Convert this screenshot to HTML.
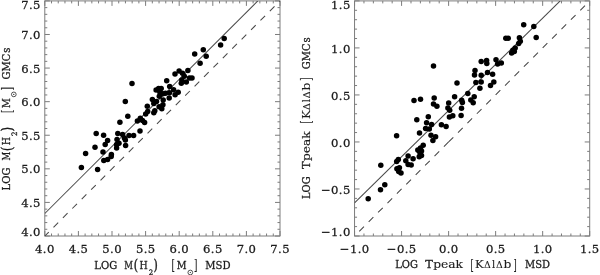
<!DOCTYPE html>
<html><head><meta charset="utf-8"><title>plot</title>
<style>
html,body{margin:0;padding:0;background:#fff;}
svg{display:block;}
text{font-family:"DejaVu Serif","Liberation Serif",serif;fill:#1c1c1c;}
.tk{font-size:11.6px;letter-spacing:0.4px;stroke:#1c1c1c;stroke-width:0.28px;}
.lb{font-size:11.2px;stroke:#1c1c1c;stroke-width:0.4px;}
.sb{font-size:7px;stroke:#1c1c1c;stroke-width:0.2px;}
</style></head><body>
<svg width="600" height="275" viewBox="0 0 600 275">
<rect width="600" height="275" fill="#fff"/>
<rect x="44.8" y="0.9" width="235.2" height="235.1" fill="none" stroke="#7c7c7c" stroke-width="1"/>
<path d="M44.80 236.0v-5M44.80 0.9v5M51.52 236.0v-2.5M51.52 0.9v2.5M58.24 236.0v-2.5M58.24 0.9v2.5M64.96 236.0v-2.5M64.96 0.9v2.5M71.68 236.0v-2.5M71.68 0.9v2.5M78.40 236.0v-5M78.40 0.9v5M85.12 236.0v-2.5M85.12 0.9v2.5M91.84 236.0v-2.5M91.84 0.9v2.5M98.56 236.0v-2.5M98.56 0.9v2.5M105.28 236.0v-2.5M105.28 0.9v2.5M112.00 236.0v-5M112.00 0.9v5M118.72 236.0v-2.5M118.72 0.9v2.5M125.44 236.0v-2.5M125.44 0.9v2.5M132.16 236.0v-2.5M132.16 0.9v2.5M138.88 236.0v-2.5M138.88 0.9v2.5M145.60 236.0v-5M145.60 0.9v5M152.32 236.0v-2.5M152.32 0.9v2.5M159.04 236.0v-2.5M159.04 0.9v2.5M165.76 236.0v-2.5M165.76 0.9v2.5M172.48 236.0v-2.5M172.48 0.9v2.5M179.20 236.0v-5M179.20 0.9v5M185.92 236.0v-2.5M185.92 0.9v2.5M192.64 236.0v-2.5M192.64 0.9v2.5M199.36 236.0v-2.5M199.36 0.9v2.5M206.08 236.0v-2.5M206.08 0.9v2.5M212.80 236.0v-5M212.80 0.9v5M219.52 236.0v-2.5M219.52 0.9v2.5M226.24 236.0v-2.5M226.24 0.9v2.5M232.96 236.0v-2.5M232.96 0.9v2.5M239.68 236.0v-2.5M239.68 0.9v2.5M246.40 236.0v-5M246.40 0.9v5M253.12 236.0v-2.5M253.12 0.9v2.5M259.84 236.0v-2.5M259.84 0.9v2.5M266.56 236.0v-2.5M266.56 0.9v2.5M273.28 236.0v-2.5M273.28 0.9v2.5M280.00 236.0v-5M280.00 0.9v5M44.8 236.00h5M280.0 236.00h-5M44.8 229.28h2.5M280.0 229.28h-2.5M44.8 222.57h2.5M280.0 222.57h-2.5M44.8 215.85h2.5M280.0 215.85h-2.5M44.8 209.13h2.5M280.0 209.13h-2.5M44.8 202.41h5M280.0 202.41h-5M44.8 195.70h2.5M280.0 195.70h-2.5M44.8 188.98h2.5M280.0 188.98h-2.5M44.8 182.26h2.5M280.0 182.26h-2.5M44.8 175.55h2.5M280.0 175.55h-2.5M44.8 168.83h5M280.0 168.83h-5M44.8 162.11h2.5M280.0 162.11h-2.5M44.8 155.39h2.5M280.0 155.39h-2.5M44.8 148.68h2.5M280.0 148.68h-2.5M44.8 141.96h2.5M280.0 141.96h-2.5M44.8 135.24h5M280.0 135.24h-5M44.8 128.53h2.5M280.0 128.53h-2.5M44.8 121.81h2.5M280.0 121.81h-2.5M44.8 115.09h2.5M280.0 115.09h-2.5M44.8 108.37h2.5M280.0 108.37h-2.5M44.8 101.66h5M280.0 101.66h-5M44.8 94.94h2.5M280.0 94.94h-2.5M44.8 88.22h2.5M280.0 88.22h-2.5M44.8 81.51h2.5M280.0 81.51h-2.5M44.8 74.79h2.5M280.0 74.79h-2.5M44.8 68.07h5M280.0 68.07h-5M44.8 61.35h2.5M280.0 61.35h-2.5M44.8 54.64h2.5M280.0 54.64h-2.5M44.8 47.92h2.5M280.0 47.92h-2.5M44.8 41.20h2.5M280.0 41.20h-2.5M44.8 34.49h5M280.0 34.49h-5M44.8 27.77h2.5M280.0 27.77h-2.5M44.8 21.05h2.5M280.0 21.05h-2.5M44.8 14.33h2.5M280.0 14.33h-2.5M44.8 7.62h2.5M280.0 7.62h-2.5M44.8 0.90h5M280.0 0.90h-5" stroke="#7c7c7c" stroke-width="1" fill="none"/>
<rect x="354.55" y="0.9" width="235.15000000000003" height="235.1" fill="none" stroke="#7c7c7c" stroke-width="1"/>
<path d="M354.55 236.0v-5M354.55 0.9v5M363.96 236.0v-2.5M363.96 0.9v2.5M373.36 236.0v-2.5M373.36 0.9v2.5M382.77 236.0v-2.5M382.77 0.9v2.5M392.17 236.0v-2.5M392.17 0.9v2.5M401.58 236.0v-5M401.58 0.9v5M410.99 236.0v-2.5M410.99 0.9v2.5M420.39 236.0v-2.5M420.39 0.9v2.5M429.80 236.0v-2.5M429.80 0.9v2.5M439.20 236.0v-2.5M439.20 0.9v2.5M448.61 236.0v-5M448.61 0.9v5M458.02 236.0v-2.5M458.02 0.9v2.5M467.42 236.0v-2.5M467.42 0.9v2.5M476.83 236.0v-2.5M476.83 0.9v2.5M486.23 236.0v-2.5M486.23 0.9v2.5M495.64 236.0v-5M495.64 0.9v5M505.05 236.0v-2.5M505.05 0.9v2.5M514.45 236.0v-2.5M514.45 0.9v2.5M523.86 236.0v-2.5M523.86 0.9v2.5M533.26 236.0v-2.5M533.26 0.9v2.5M542.67 236.0v-5M542.67 0.9v5M552.08 236.0v-2.5M552.08 0.9v2.5M561.48 236.0v-2.5M561.48 0.9v2.5M570.89 236.0v-2.5M570.89 0.9v2.5M580.29 236.0v-2.5M580.29 0.9v2.5M589.70 236.0v-5M589.70 0.9v5M354.55 236.00h5M589.7 236.00h-5M354.55 226.60h2.5M589.7 226.60h-2.5M354.55 217.19h2.5M589.7 217.19h-2.5M354.55 207.79h2.5M589.7 207.79h-2.5M354.55 198.38h2.5M589.7 198.38h-2.5M354.55 188.98h5M589.7 188.98h-5M354.55 179.58h2.5M589.7 179.58h-2.5M354.55 170.17h2.5M589.7 170.17h-2.5M354.55 160.77h2.5M589.7 160.77h-2.5M354.55 151.36h2.5M589.7 151.36h-2.5M354.55 141.96h5M589.7 141.96h-5M354.55 132.56h2.5M589.7 132.56h-2.5M354.55 123.15h2.5M589.7 123.15h-2.5M354.55 113.75h2.5M589.7 113.75h-2.5M354.55 104.34h2.5M589.7 104.34h-2.5M354.55 94.94h5M589.7 94.94h-5M354.55 85.54h2.5M589.7 85.54h-2.5M354.55 76.13h2.5M589.7 76.13h-2.5M354.55 66.73h2.5M589.7 66.73h-2.5M354.55 57.32h2.5M589.7 57.32h-2.5M354.55 47.92h5M589.7 47.92h-5M354.55 38.52h2.5M589.7 38.52h-2.5M354.55 29.11h2.5M589.7 29.11h-2.5M354.55 19.71h2.5M589.7 19.71h-2.5M354.55 10.30h2.5M589.7 10.30h-2.5M354.55 0.90h5M589.7 0.90h-5" stroke="#7c7c7c" stroke-width="1" fill="none"/>
<defs><clipPath id="cl"><rect x="44.8" y="0.9" width="235.2" height="235.1"/></clipPath><clipPath id="cr"><rect x="354.55" y="0.9" width="235.15000000000003" height="235.1"/></clipPath></defs>
<g clip-path="url(#cl)" stroke="#484848" stroke-width="1.05" fill="none">
<line x1="44.8" y1="213.5" x2="257.8" y2="0.9"/>
<line x1="44.8" y1="236.0" x2="280.0" y2="0.9" stroke-dasharray="6.6 6.7" stroke-dashoffset="1.0"/>
</g>
<g clip-path="url(#cr)" stroke="#484848" stroke-width="1.05" fill="none">
<line x1="354.55" y1="202.8" x2="560.2" y2="0.9"/>
<line x1="448.61" y1="141.96" x2="354.55" y2="236.0" stroke-dasharray="6.65 6.65"/>
<line x1="448.61" y1="141.96" x2="589.7" y2="0.9" stroke-dasharray="6.65 6.65"/>
</g>
<g fill="#000">
<circle cx="81.4" cy="167.4" r="2.75"/>
<circle cx="85.6" cy="153.4" r="2.75"/>
<circle cx="97.6" cy="169.4" r="2.75"/>
<circle cx="95" cy="147.2" r="2.75"/>
<circle cx="96.2" cy="133.6" r="2.75"/>
<circle cx="103.6" cy="135.2" r="2.75"/>
<circle cx="103" cy="152" r="2.75"/>
<circle cx="103.8" cy="160.4" r="2.75"/>
<circle cx="107.6" cy="159.6" r="2.75"/>
<circle cx="111.2" cy="156.6" r="2.75"/>
<circle cx="111.4" cy="154.4" r="2.75"/>
<circle cx="105.2" cy="144.4" r="2.75"/>
<circle cx="107.6" cy="140.4" r="2.75"/>
<circle cx="116.6" cy="148" r="2.75"/>
<circle cx="116.6" cy="144.6" r="2.75"/>
<circle cx="119" cy="143.2" r="2.75"/>
<circle cx="117" cy="139.6" r="2.75"/>
<circle cx="117.8" cy="133.6" r="2.75"/>
<circle cx="122.6" cy="134.4" r="2.75"/>
<circle cx="124.4" cy="138" r="2.75"/>
<circle cx="125.4" cy="140" r="2.75"/>
<circle cx="125.6" cy="145.4" r="2.75"/>
<circle cx="129" cy="135.4" r="2.75"/>
<circle cx="133.6" cy="135.4" r="2.75"/>
<circle cx="140" cy="131" r="2.75"/>
<circle cx="125.3" cy="101.6" r="2.75"/>
<circle cx="127.8" cy="116.3" r="2.75"/>
<circle cx="119.9" cy="122.3" r="2.75"/>
<circle cx="137.4" cy="121.1" r="2.75"/>
<circle cx="140.3" cy="118.2" r="2.75"/>
<circle cx="144.6" cy="122.6" r="2.75"/>
<circle cx="142.5" cy="120.5" r="2.75"/>
<circle cx="145.7" cy="113.9" r="2.75"/>
<circle cx="147.7" cy="111.4" r="2.75"/>
<circle cx="147.3" cy="106.3" r="2.75"/>
<circle cx="153.8" cy="112.8" r="2.75"/>
<circle cx="154.8" cy="110.8" r="2.75"/>
<circle cx="153.8" cy="103.4" r="2.75"/>
<circle cx="152.4" cy="99.6" r="2.75"/>
<circle cx="156.5" cy="101.4" r="2.75"/>
<circle cx="159.1" cy="106.7" r="2.75"/>
<circle cx="161.8" cy="108.8" r="2.75"/>
<circle cx="162.9" cy="104.7" r="2.75"/>
<circle cx="163.2" cy="100" r="2.75"/>
<circle cx="169.2" cy="98" r="2.75"/>
<circle cx="166.7" cy="80.8" r="2.75"/>
<circle cx="169.7" cy="86.6" r="2.75"/>
<circle cx="156.1" cy="89.9" r="2.75"/>
<circle cx="158.6" cy="88.4" r="2.75"/>
<circle cx="161.2" cy="88.4" r="2.75"/>
<circle cx="159.9" cy="92.2" r="2.75"/>
<circle cx="159.3" cy="96.3" r="2.75"/>
<circle cx="162.9" cy="93.7" r="2.75"/>
<circle cx="165.5" cy="93.2" r="2.75"/>
<circle cx="169.5" cy="92.7" r="2.75"/>
<circle cx="173.6" cy="89.7" r="2.75"/>
<circle cx="178.2" cy="92.2" r="2.75"/>
<circle cx="175.1" cy="94.8" r="2.75"/>
<circle cx="181.3" cy="83.2" r="2.75"/>
<circle cx="181.8" cy="79.9" r="2.75"/>
<circle cx="186.3" cy="82" r="2.75"/>
<circle cx="200.1" cy="63.3" r="2.75"/>
<circle cx="187.9" cy="70.5" r="2.75"/>
<circle cx="179.1" cy="71" r="2.75"/>
<circle cx="175" cy="74.1" r="2.75"/>
<circle cx="182.5" cy="73.3" r="2.75"/>
<circle cx="184.3" cy="76.3" r="2.75"/>
<circle cx="189.5" cy="77.9" r="2.75"/>
<circle cx="192" cy="77.9" r="2.75"/>
<circle cx="132" cy="83.6" r="2.75"/>
<circle cx="224.2" cy="38.4" r="2.75"/>
<circle cx="220.6" cy="45.1" r="2.75"/>
<circle cx="203.3" cy="49.7" r="2.75"/>
<circle cx="194.7" cy="53.9" r="2.75"/>
<circle cx="206.2" cy="56.3" r="2.75"/>
<circle cx="380.8" cy="165.2" r="2.75"/>
<circle cx="384.8" cy="184.7" r="2.75"/>
<circle cx="396.7" cy="161.4" r="2.75"/>
<circle cx="398.3" cy="159.4" r="2.75"/>
<circle cx="396.9" cy="168.8" r="2.75"/>
<circle cx="399.4" cy="167.7" r="2.75"/>
<circle cx="398.7" cy="171.5" r="2.75"/>
<circle cx="401" cy="173.1" r="2.75"/>
<circle cx="405.8" cy="160.8" r="2.75"/>
<circle cx="408.1" cy="156" r="2.75"/>
<circle cx="408.1" cy="164.5" r="2.75"/>
<circle cx="411.2" cy="165.1" r="2.75"/>
<circle cx="413.1" cy="158.7" r="2.75"/>
<circle cx="419.2" cy="156.7" r="2.75"/>
<circle cx="421.5" cy="155.6" r="2.75"/>
<circle cx="420.2" cy="153.4" r="2.75"/>
<circle cx="419.2" cy="151.1" r="2.75"/>
<circle cx="421.5" cy="151.1" r="2.75"/>
<circle cx="368.2" cy="198.8" r="2.75"/>
<circle cx="380.5" cy="189.8" r="2.75"/>
<circle cx="396.6" cy="135.8" r="2.75"/>
<circle cx="416.8" cy="119.7" r="2.75"/>
<circle cx="428.3" cy="116.7" r="2.75"/>
<circle cx="426.6" cy="122.7" r="2.75"/>
<circle cx="431.6" cy="124.4" r="2.75"/>
<circle cx="425.6" cy="128.4" r="2.75"/>
<circle cx="429.3" cy="129.1" r="2.75"/>
<circle cx="419.5" cy="133.1" r="2.75"/>
<circle cx="431" cy="135.2" r="2.75"/>
<circle cx="435.6" cy="136.8" r="2.75"/>
<circle cx="432.9" cy="140.5" r="2.75"/>
<circle cx="423.2" cy="145.2" r="2.75"/>
<circle cx="420.5" cy="147.9" r="2.75"/>
<circle cx="417.8" cy="149.9" r="2.75"/>
<circle cx="441.4" cy="124.7" r="2.75"/>
<circle cx="446.1" cy="126.4" r="2.75"/>
<circle cx="449.4" cy="117" r="2.75"/>
<circle cx="452.8" cy="115.7" r="2.75"/>
<circle cx="461.1" cy="115.4" r="2.75"/>
<circle cx="414" cy="100.6" r="2.75"/>
<circle cx="420.5" cy="99.2" r="2.75"/>
<circle cx="434.2" cy="97.9" r="2.75"/>
<circle cx="433.5" cy="103.9" r="2.75"/>
<circle cx="436.9" cy="106.2" r="2.75"/>
<circle cx="448.7" cy="103.1" r="2.75"/>
<circle cx="447.9" cy="108" r="2.75"/>
<circle cx="449.7" cy="110.2" r="2.75"/>
<circle cx="454.6" cy="96.8" r="2.75"/>
<circle cx="457" cy="83" r="2.75"/>
<circle cx="461.7" cy="100.2" r="2.75"/>
<circle cx="462.4" cy="102.6" r="2.75"/>
<circle cx="461.5" cy="108.2" r="2.75"/>
<circle cx="467.8" cy="93.4" r="2.75"/>
<circle cx="470.8" cy="99.9" r="2.75"/>
<circle cx="474.2" cy="96.8" r="2.75"/>
<circle cx="473.2" cy="102.8" r="2.75"/>
<circle cx="475.9" cy="82.4" r="2.75"/>
<circle cx="481.2" cy="82" r="2.75"/>
<circle cx="479.9" cy="88.3" r="2.75"/>
<circle cx="490.5" cy="85.4" r="2.75"/>
<circle cx="433.5" cy="66.1" r="2.75"/>
<circle cx="481.2" cy="61.4" r="2.75"/>
<circle cx="486.6" cy="60.5" r="2.75"/>
<circle cx="486.8" cy="63.4" r="2.75"/>
<circle cx="496" cy="59.8" r="2.75"/>
<circle cx="497.6" cy="64.1" r="2.75"/>
<circle cx="501.3" cy="63" r="2.75"/>
<circle cx="475" cy="70.6" r="2.75"/>
<circle cx="474.5" cy="74.9" r="2.75"/>
<circle cx="481.2" cy="75.3" r="2.75"/>
<circle cx="487.5" cy="72.6" r="2.75"/>
<circle cx="492.6" cy="74.2" r="2.75"/>
<circle cx="493.8" cy="82" r="2.75"/>
<circle cx="523.7" cy="24.7" r="2.75"/>
<circle cx="533.8" cy="26.4" r="2.75"/>
<circle cx="536.2" cy="37.4" r="2.75"/>
<circle cx="505.8" cy="38.3" r="2.75"/>
<circle cx="508.2" cy="38.3" r="2.75"/>
<circle cx="519.4" cy="37.8" r="2.75"/>
<circle cx="520.3" cy="41.2" r="2.75"/>
<circle cx="518.7" cy="43.5" r="2.75"/>
<circle cx="515.2" cy="47.9" r="2.75"/>
<circle cx="512.9" cy="50.2" r="2.75"/>
<circle cx="514.3" cy="51.4" r="2.75"/>
<circle cx="511.6" cy="53.1" r="2.75"/>
</g>
<text class="tk" x="44.9" y="253.4" text-anchor="middle">4.0</text>
<text class="tk" x="40.9" y="236.3" text-anchor="end">4.0</text>
<text class="tk" x="78.5" y="253.4" text-anchor="middle">4.5</text>
<text class="tk" x="40.9" y="207.0" text-anchor="end">4.5</text>
<text class="tk" x="112.1" y="253.4" text-anchor="middle">5.0</text>
<text class="tk" x="40.9" y="173.4" text-anchor="end">5.0</text>
<text class="tk" x="145.7" y="253.4" text-anchor="middle">5.5</text>
<text class="tk" x="40.9" y="139.8" text-anchor="end">5.5</text>
<text class="tk" x="179.3" y="253.4" text-anchor="middle">6.0</text>
<text class="tk" x="40.9" y="106.3" text-anchor="end">6.0</text>
<text class="tk" x="212.9" y="253.4" text-anchor="middle">6.5</text>
<text class="tk" x="40.9" y="72.7" text-anchor="end">6.5</text>
<text class="tk" x="246.5" y="253.4" text-anchor="middle">7.0</text>
<text class="tk" x="40.9" y="39.1" text-anchor="end">7.0</text>
<text class="tk" x="280.1" y="253.4" text-anchor="middle">7.5</text>
<text class="tk" x="40.9" y="9.0" text-anchor="end">7.5</text>
<text class="tk" x="354.7" y="253.4" text-anchor="middle">−1.0</text>
<text class="tk" x="350.7" y="236.3" text-anchor="end">−1.0</text>
<text class="tk" x="401.7" y="253.4" text-anchor="middle">−0.5</text>
<text class="tk" x="350.7" y="193.6" text-anchor="end">−0.5</text>
<text class="tk" x="448.7" y="253.4" text-anchor="middle">0.0</text>
<text class="tk" x="350.7" y="146.6" text-anchor="end">0.0</text>
<text class="tk" x="495.7" y="253.4" text-anchor="middle">0.5</text>
<text class="tk" x="350.7" y="99.5" text-anchor="end">0.5</text>
<text class="tk" x="542.8" y="253.4" text-anchor="middle">1.0</text>
<text class="tk" x="350.7" y="52.5" text-anchor="end">1.0</text>
<text class="tk" x="589.8" y="253.4" text-anchor="middle">1.5</text>
<text class="tk" x="350.7" y="9.0" text-anchor="end">1.5</text>
<g transform="translate(94.3,268.7)"><text x="0" y="0" font-size="11.2" stroke="#1c1c1c" stroke-width="0.3" textLength="22.9" lengthAdjust="spacingAndGlyphs">LOG</text><text x="30" y="0" font-size="11.2" stroke="#1c1c1c" stroke-width="0.3" textLength="8.7" lengthAdjust="spacingAndGlyphs">M</text><text x="39.5" y="1.5" font-size="14.5" stroke="#1c1c1c" stroke-width="0.45" textLength="4.3" lengthAdjust="spacingAndGlyphs">(</text><text x="45.1" y="0" font-size="11.2" stroke="#1c1c1c" stroke-width="0.3" textLength="8.2" lengthAdjust="spacingAndGlyphs">H</text><text x="54.5" y="6.6" font-size="7.4" stroke="#1c1c1c" stroke-width="0.3" textLength="4.4" lengthAdjust="spacingAndGlyphs">2</text><text x="59.2" y="1.5" font-size="14.5" stroke="#1c1c1c" stroke-width="0.45" textLength="4.3" lengthAdjust="spacingAndGlyphs">)</text><text x="77.3" y="1.7" font-size="15.5" stroke="#1c1c1c" stroke-width="0.15" textLength="3.4" lengthAdjust="spacingAndGlyphs">[</text><text x="82.5" y="0" font-size="11.2" stroke="#1c1c1c" stroke-width="0.3" textLength="9.8" lengthAdjust="spacingAndGlyphs">M</text><circle cx="96.0" cy="3.8" r="2.35" fill="none" stroke="#1c1c1c" stroke-width="0.75"/><circle cx="96.0" cy="3.8" r="0.6" fill="#1c1c1c"/><text x="99.8" y="1.7" font-size="15.5" stroke="#1c1c1c" stroke-width="0.15" textLength="3.4" lengthAdjust="spacingAndGlyphs">]</text><text x="111" y="0" font-size="11.2" stroke="#1c1c1c" stroke-width="0.3" textLength="25.3" lengthAdjust="spacingAndGlyphs">MSD</text></g>
<g transform="translate(10,190.4) rotate(-90)"><text x="0" y="0" font-size="11.2" stroke="#1c1c1c" stroke-width="0.3" textLength="22.9" lengthAdjust="spacingAndGlyphs">LOG</text><text x="30" y="0" font-size="11.2" stroke="#1c1c1c" stroke-width="0.3" textLength="8.7" lengthAdjust="spacingAndGlyphs">M</text><text x="39.5" y="1.5" font-size="14.5" stroke="#1c1c1c" stroke-width="0.45" textLength="4.3" lengthAdjust="spacingAndGlyphs">(</text><text x="45.1" y="0" font-size="11.2" stroke="#1c1c1c" stroke-width="0.3" textLength="8.2" lengthAdjust="spacingAndGlyphs">H</text><text x="54.5" y="6.6" font-size="7.4" stroke="#1c1c1c" stroke-width="0.3" textLength="4.4" lengthAdjust="spacingAndGlyphs">2</text><text x="59.2" y="1.5" font-size="14.5" stroke="#1c1c1c" stroke-width="0.45" textLength="4.3" lengthAdjust="spacingAndGlyphs">)</text><text x="77.3" y="1.7" font-size="15.5" stroke="#1c1c1c" stroke-width="0.15" textLength="3.4" lengthAdjust="spacingAndGlyphs">[</text><text x="82.5" y="0" font-size="11.2" stroke="#1c1c1c" stroke-width="0.3" textLength="9.8" lengthAdjust="spacingAndGlyphs">M</text><circle cx="96.0" cy="3.8" r="2.35" fill="none" stroke="#1c1c1c" stroke-width="0.75"/><circle cx="96.0" cy="3.8" r="0.6" fill="#1c1c1c"/><text x="99.8" y="1.7" font-size="15.5" stroke="#1c1c1c" stroke-width="0.15" textLength="3.4" lengthAdjust="spacingAndGlyphs">]</text><text x="111" y="0" font-size="11.2" stroke="#1c1c1c" stroke-width="0.3" textLength="25.8" lengthAdjust="spacingAndGlyphs">GMC</text><text x="137.6" y="0" font-size="11.2" stroke="#1c1c1c" stroke-width="0.3" textLength="5.2" lengthAdjust="spacingAndGlyphs">s</text></g>
<g transform="translate(395.2,268.2)"><text x="0" y="0" font-size="11.2" stroke="#1c1c1c" stroke-width="0.3" textLength="22.7" lengthAdjust="spacingAndGlyphs">LOG</text><text x="30" y="0" font-size="11.2" stroke="#1c1c1c" stroke-width="0.3" textLength="7.6" lengthAdjust="spacingAndGlyphs">T</text><text x="38" y="0" font-size="10.6" stroke="#1c1c1c" stroke-width="0.12" textLength="29.8" lengthAdjust="spacingAndGlyphs">peak</text><text x="75.4" y="1.7" font-size="15.5" stroke="#1c1c1c" stroke-width="0.15" textLength="3.2" lengthAdjust="spacingAndGlyphs">[</text><text x="79.9" y="0" font-size="11.2" stroke="#1c1c1c" stroke-width="0.1" textLength="8.7" lengthAdjust="spacingAndGlyphs">K</text><text x="88.9" y="0" font-size="8.6" stroke="#1c1c1c" stroke-width="0.05" textLength="6.8" lengthAdjust="spacingAndGlyphs">Δ</text><text x="96.8" y="0" font-size="10.8" stroke="#1c1c1c" stroke-width="0.1" textLength="3.2" lengthAdjust="spacingAndGlyphs">l</text><text x="100.8" y="0" font-size="8.6" stroke="#1c1c1c" stroke-width="0.05" textLength="6.8" lengthAdjust="spacingAndGlyphs">Δ</text><text x="108.4" y="0" font-size="10.6" stroke="#1c1c1c" stroke-width="0.1" textLength="7.9" lengthAdjust="spacingAndGlyphs">b</text><text x="118.2" y="1.7" font-size="15.5" stroke="#1c1c1c" stroke-width="0.15" textLength="3.2" lengthAdjust="spacingAndGlyphs">]</text><text x="129.8" y="0" font-size="11.2" stroke="#1c1c1c" stroke-width="0.3" textLength="25.0" lengthAdjust="spacingAndGlyphs">MSD</text></g>
<g transform="translate(309.7,199.0) rotate(-90)"><text x="0" y="0" font-size="11.2" stroke="#1c1c1c" stroke-width="0.3" textLength="22.7" lengthAdjust="spacingAndGlyphs">LOG</text><text x="30" y="0" font-size="11.2" stroke="#1c1c1c" stroke-width="0.3" textLength="7.6" lengthAdjust="spacingAndGlyphs">T</text><text x="38" y="0" font-size="10.6" stroke="#1c1c1c" stroke-width="0.12" textLength="29.8" lengthAdjust="spacingAndGlyphs">peak</text><text x="75.4" y="1.7" font-size="15.5" stroke="#1c1c1c" stroke-width="0.15" textLength="3.2" lengthAdjust="spacingAndGlyphs">[</text><text x="79.9" y="0" font-size="11.2" stroke="#1c1c1c" stroke-width="0.1" textLength="8.7" lengthAdjust="spacingAndGlyphs">K</text><text x="88.9" y="0" font-size="8.6" stroke="#1c1c1c" stroke-width="0.05" textLength="6.8" lengthAdjust="spacingAndGlyphs">Δ</text><text x="96.8" y="0" font-size="10.8" stroke="#1c1c1c" stroke-width="0.1" textLength="3.2" lengthAdjust="spacingAndGlyphs">l</text><text x="100.8" y="0" font-size="8.6" stroke="#1c1c1c" stroke-width="0.05" textLength="6.8" lengthAdjust="spacingAndGlyphs">Δ</text><text x="108.4" y="0" font-size="10.6" stroke="#1c1c1c" stroke-width="0.1" textLength="7.9" lengthAdjust="spacingAndGlyphs">b</text><text x="118.2" y="1.7" font-size="15.5" stroke="#1c1c1c" stroke-width="0.15" textLength="3.2" lengthAdjust="spacingAndGlyphs">]</text><text x="129.8" y="0" font-size="11.2" stroke="#1c1c1c" stroke-width="0.3" textLength="25.8" lengthAdjust="spacingAndGlyphs">GMC</text><text x="156.4" y="0" font-size="11.2" stroke="#1c1c1c" stroke-width="0.3" textLength="5.2" lengthAdjust="spacingAndGlyphs">s</text></g>
</svg></body></html>
